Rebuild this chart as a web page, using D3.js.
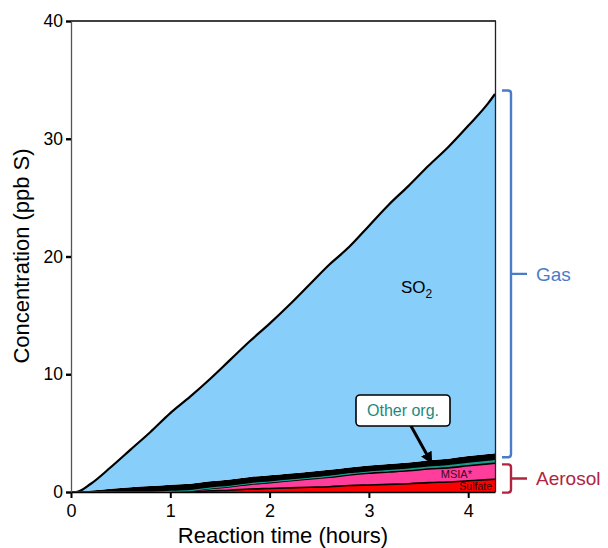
<!DOCTYPE html>
<html><head><meta charset="utf-8">
<script src="https://cdn.jsdelivr.net/npm/d3@7"></script>
<style>body{margin:0;background:#fff}svg{display:block}text{font-family:"Liberation Sans",Arial,sans-serif}</style>
</head><body><svg id="c" width="608" height="548"></svg>
<script>
const hours   = [0, 0.05, 0.2, 0.4, 0.6, 0.8, 1.0, 1.2, 1.4, 1.6, 1.8, 2.0, 2.2, 2.4, 2.6, 2.8, 3.0, 3.2, 3.4, 3.6, 3.8, 4.0, 4.2, 4.27];
const totalS  = [0, 0, 0.7, 2.1, 3.6, 5.1, 6.7, 8.1, 9.6, 11.2, 12.8, 14.3, 15.9, 17.6, 19.3, 20.8, 22.6, 24.4, 26.0, 27.7, 29.3, 31.1, 33.0, 33.8];
const sulfate = [0, 0, 0, 0, 0, 0, 0, 0, 0.1, 0.15, 0.25, 0.3, 0.35, 0.4, 0.45, 0.55, 0.6, 0.65, 0.7, 0.8, 0.85, 0.95, 1.05, 1.08];
const msia    = [0, 0, 0, 0, 0, 0, 0.05, 0.1, 0.2, 0.3, 0.4, 0.5, 0.6, 0.7, 0.8, 0.9, 1.0, 1.05, 1.1, 1.15, 1.2, 1.28, 1.34, 1.36];
const tealOrg = [0, 0, 0, 0, 0, 0, 0, 0.02, 0.03, 0.04, 0.05, 0.05, 0.06, 0.07, 0.08, 0.09, 0.1, 0.12, 0.14, 0.16, 0.18, 0.2, 0.21, 0.22];
const otherOrg= [0, 0, 0.12, 0.28, 0.4, 0.5, 0.56, 0.58, 0.58, 0.58, 0.58, 0.58, 0.57, 0.56, 0.55, 0.54, 0.54, 0.55, 0.56, 0.58, 0.6, 0.62, 0.63, 0.64];
const xTicks = [0, 1, 2, 3, 4];
const yTicks = [0, 10, 20, 30, 40];
const keys = ["sulfate", "msia", "teal", "other", "so2"];
const fills = {sulfate: "#ff0000", msia: "#ff3d9a", teal: "#1a9a8a", other: "#000000", so2: "#87cefa"};

const rows = hours.map((t, i) => ({
  t, sulfate: sulfate[i], msia: msia[i], teal: tealOrg[i], other: otherOrg[i],
  so2: Math.max(0, totalS[i] - sulfate[i] - msia[i] - tealOrg[i] - otherOrg[i])
}));

const svg = d3.select("#c");
const x = d3.scaleLinear().domain([0, 4.27]).range([71, 495]);
const y = d3.scaleLinear().domain([0, 40]).range([492, 21]);

const series = d3.stack().keys(keys)(rows);
const area = d3.area().curve(d3.curveMonotoneX).x(d => x(d.data.t)).y0(d => y(d[0])).y1(d => y(d[1]));
const line = d3.line().curve(d3.curveMonotoneX).x(d => x(d.data.t)).y(d => y(d[1]));

svg.append("g").selectAll("path").data(series).join("path")
  .attr("d", area).attr("fill", d => fills[d.key]);
svg.append("g").selectAll("path").data(series.filter(s => s.key !== "teal" && s.key !== "other")).join("path")
  .attr("d", line).attr("fill", "none").attr("stroke", "#000")
  .attr("stroke-width", d => d.key === "so2" ? 2.2 : 1.6).attr("stroke-linejoin", "round");
svg.append("path").datum(series[2]).attr("d", line).attr("fill", "none")
  .attr("stroke", "#1a9a8a").attr("stroke-width", 1.2);

// frame
svg.append("line").attr("x1", 71).attr("x2", 496).attr("y1", 21).attr("y2", 21).attr("stroke", "#000").attr("stroke-width", 1.5);
svg.append("line").attr("x1", 495.5).attr("x2", 495.5).attr("y1", 21).attr("y2", 492).attr("stroke", "#222").attr("stroke-width", 1.3);

// axes
const xa = svg.append("g").attr("transform", "translate(0,492)")
  .call(d3.axisBottom(x).tickValues(xTicks).tickFormat(d3.format("d")).tickSize(6).tickSizeOuter(0));
xa.select(".domain").attr("stroke", "#000").attr("stroke-width", 1.6);
xa.selectAll(".tick line").attr("stroke", "#000").attr("stroke-width", 2);
xa.selectAll(".tick text").attr("font-size", 18).attr("fill", "#000").attr("y", 12).attr("dy", "0.71em")
  .style("font-family", "Liberation Sans, Arial, sans-serif");

const ya = svg.append("g").attr("transform", "translate(71,0)")
  .call(d3.axisLeft(y).tickValues(yTicks).tickFormat(d3.format("d")).tickSize(5).tickSizeOuter(0));
ya.select(".domain").attr("stroke", "#555").attr("stroke-width", 1.3);
ya.selectAll(".tick line").attr("stroke", "#000").attr("stroke-width", 2.4);
ya.selectAll(".tick text").attr("font-size", 17.5).attr("fill", "#000").attr("x", -8)
  .style("font-family", "Liberation Sans, Arial, sans-serif");

svg.append("text").attr("x", 283).attr("y", 543).attr("text-anchor", "middle")
  .attr("font-size", 22).attr("fill", "#000").text("Reaction time (hours)");
svg.append("text").attr("transform", "translate(29,256) rotate(-90)").attr("text-anchor", "middle")
  .attr("font-size", 22).attr("fill", "#000").text("Concentration (ppb S)");

// SO2 label
const so2t = svg.append("text").attr("x", 401).attr("y", 293).attr("font-size", 17).attr("fill", "#000");
so2t.append("tspan").text("SO");
so2t.append("tspan").attr("font-size", 12).attr("dy", 5).text("2");

// small labels
svg.append("text").attr("x", 472).attr("y", 478).attr("text-anchor", "end").attr("font-size", 11)
  .attr("fill", "#3a0a20").text("MSIA*");
svg.append("text").attr("x", 492).attr("y", 490).attr("text-anchor", "end").attr("font-size", 10.5)
  .attr("fill", "#300").text("Sulfate");

// Other org callout
svg.append("defs").append("marker").attr("id", "ah").attr("viewBox", "0 0 10 10")
  .attr("refX", 8).attr("refY", 5).attr("markerWidth", 4).attr("markerHeight", 4).attr("orient", "auto")
  .append("path").attr("d", "M0,0 L10,5 L0,10 z").attr("fill", "#000");
svg.append("line").attr("x1", 411).attr("y1", 426).attr("x2", 431).attr("y2", 462)
  .attr("stroke", "#000").attr("stroke-width", 3).attr("marker-end", "url(#ah)");
svg.append("rect").attr("x", 356).attr("y", 395).attr("width", 94).attr("height", 31).attr("rx", 4)
  .attr("fill", "#fff").attr("stroke", "#000").attr("stroke-width", 1.6);
svg.append("text").attr("x", 403).attr("y", 416).attr("text-anchor", "middle").attr("font-size", 16)
  .attr("fill", "#1a8a80").text("Other org.");

// brackets
function bracket(top, bot, color, label) {
  const mid = (top + bot) / 2, xv = 511, r = 3;
  svg.append("path").attr("d",
    `M502,${top} L${xv - r},${top} Q${xv},${top} ${xv},${top + r} L${xv},${bot - r} Q${xv},${bot} ${xv - r},${bot} L502,${bot} M${xv},${mid} L527,${mid}`)
    .attr("fill", "none").attr("stroke", color).attr("stroke-width", 2.4);
  svg.append("text").attr("x", 536).attr("y", mid + 7).attr("font-size", 19).attr("fill", color).text(label);
}
bracket(y(34.1), y(2.95), "#4a7cc9", "Gas");
bracket(y(2.35), y(-0.05), "#b0243f", "Aerosol");
</script></body></html>
